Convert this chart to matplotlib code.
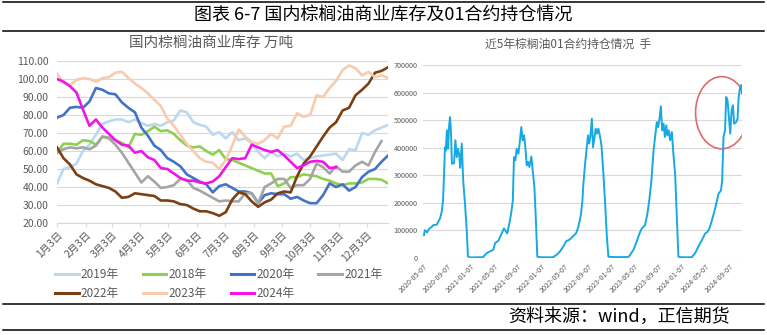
import matplotlib
matplotlib.use('Agg')
import matplotlib.pyplot as plt
import matplotlib.dates as mdates
from matplotlib.lines import Line2D
from matplotlib.patches import Ellipse, Rectangle
import numpy as np
import pandas as pd

plt.rcParams['font.family'] = ['Liberation Sans Narrow', 'Noto Sans CJK SC', 'DejaVu Sans']

# 商业库存，每周一个点，单位万吨
week_days = np.arange(52) * 7
stock_2019 = [42, 50, 51, 53, 60, 63.5, 69, 75, 76.5, 77.5, 77.5, 76, 77.5, 75.5, 74, 75, 74, 76, 77, 82.5,
              81.5, 76, 74.5, 73.5, 69, 70.5, 67, 70.5, 66, 67, 64.5, 59.5, 56, 59.5, 57, 58.5, 57, 58.5, 55, 56,
              57, 57.5, 58, 58.5, 55, 61, 60.5, 70, 69, 71.5, 73, 74.5]
stock_2018 = [59, 64, 64, 63.5, 66, 65.5, 63.5, 68, 67.5, 66, 64.5, 62, 69.5, 69, 71, 73.5, 71, 71.5, 69.5, 66,
              63, 62, 62.5, 60, 58, 60.5, 55.5, 55, 53.5, 52, 50.5, 49, 47.5, 47.5, 40.5, 42, 45.5, 45.5, 47, 46.5,
              46, 44.5, 43.5, 42, 41, 42, 42, 42.5, 44.5, 44.5, 44, 42]
stock_2020 = [78.5, 80, 84, 84.5, 84, 87.5, 95, 94, 92, 91.5, 87, 84, 81.5, 73, 68.5, 63, 60.5, 56, 54, 51.5,
              47, 45, 43, 41.5, 37, 40.5, 41.5, 39.5, 37.5, 37.5, 36.5, 31, 35.5, 36.5, 36, 36, 33.5, 34.5, 32.5, 31,
              31, 35.5, 42, 40, 41.5, 38, 40, 45.5, 48.5, 50, 54, 57.5]
stock_2021 = [59, 61, 62, 61.5, 62, 61, 63, 68, 67, 63.5, 59, 53.5, 48, 42.5, 46, 43, 39.5, 40, 41, 44.5,
              44, 39.5, 38, 36, 34, 32, 32.5, 32, 32, 36.5, 36.5, 31, 40, 42, 44.5, 44.5, 39.5, 41, 41, 44.5,
              53, 51, 47.5, 51.5, 48.5, 48.5, 52, 54, 52, 59.5, 65.5]
stock_2022 = [62, 56, 52.5, 47, 45, 43.5, 41.5, 40.5, 39.5, 37.5, 34, 34.5, 36.5, 36, 35.5, 35, 32.5, 32.5, 32, 30.5,
              30, 28, 26.5, 26.5, 25.5, 24, 26, 33, 37, 36, 32, 29, 31.5, 33, 36.5, 37.5, 37, 46, 53, 57,
              62.5, 68, 73, 76, 82.5, 84, 91, 94, 97.5, 103.5, 104.5, 106.5]
stock_2023 = [103, 98, 96.5, 99.5, 100.5, 100, 98.5, 100.5, 101, 103.5, 104, 100.5, 97.5, 95, 92, 88.5, 85, 78, 74, 69,
              64, 60, 56, 54, 53.5, 50, 55, 63, 72, 68, 65, 64, 66, 69.5, 67, 73.5, 74, 81, 79, 80,
              91, 90, 95, 99, 105, 107.5, 106, 102, 104, 101, 102, 100.5]
stock_2024 = [100, 98.5, 96, 92.5, 83, 74, 77.5, 73, 69.5, 66, 63.5, 63, 59, 60, 56.5, 55, 50.5, 50, 47.5, 45,
              43.5, 43.5, 42.5, 42, 43, 46, 51, 56, 55.5, 56, 63.5, 62, 60.5, 59.5, 60.5, 57.5, 54, 50.5, 52, 54,
              54.5, 54, 50.5, 51]

month_days = [0, 31, 59, 90, 120, 151, 181, 212, 243, 273, 304, 334]
month_labels = ['%d月3日' % m for m in range(1, 13)]

# 01合约持仓，单位手
p2101_dates = ['2020-05-07', '2020-05-12', '2020-05-23', '2020-06-02', '2020-06-16', '2020-06-24', '2020-07-12',
               '2020-07-20', '2020-07-29', '2020-08-07', '2020-08-14', '2020-08-19', '2020-08-24', '2020-08-28',
               '2020-09-03', '2020-09-09', '2020-09-14', '2020-09-19', '2020-09-24', '2020-09-29', '2020-10-10',
               '2020-10-17', '2020-10-24', '2020-10-31', '2020-11-06', '2020-11-11', '2020-11-19', '2020-11-27',
               '2020-12-06', '2020-12-15', '2020-12-21']
p2101_oi = [83000, 101000, 93000, 105000, 113000, 119000, 121000, 131000, 143000, 167000, 210000, 300000, 402000,
            390000, 463000, 396000, 475000, 511000, 463000, 342000, 344000, 427000, 366000, 396000, 372000, 327000,
            415000, 275000, 196000, 99000, 6000]
p2201_dates = ['2021-01-01', '2021-02-05', '2021-03-09', '2021-03-29', '2021-04-15', '2021-05-02', '2021-05-11',
               '2021-05-28', '2021-06-14', '2021-06-26', '2021-07-07', '2021-07-13', '2021-07-24', '2021-08-02',
               '2021-08-11', '2021-08-17', '2021-08-24', '2021-08-31', '2021-09-09', '2021-09-17', '2021-09-24',
               '2021-10-01', '2021-10-08', '2021-10-15', '2021-10-22', '2021-10-29', '2021-11-05', '2021-11-15',
               '2021-11-22', '2021-12-01', '2021-12-08', '2021-12-16']
p2201_oi = [2000, 2500, 3000, 18000, 24000, 30000, 54000, 63000, 89000, 107000, 95000, 89000, 125000, 160000,
            208000, 366000, 354000, 396000, 378000, 427000, 475000, 427000, 445000, 402000, 336000, 348000, 330000,
            368000, 318000, 257000, 148000, 5000]
p2301_dates = ['2021-12-30', '2022-02-10', '2022-03-08', '2022-03-27', '2022-04-13', '2022-04-30', '2022-05-14',
               '2022-06-04', '2022-06-21', '2022-07-05', '2022-07-17', '2022-07-30', '2022-08-07', '2022-08-12',
               '2022-08-21', '2022-08-30', '2022-09-05', '2022-09-11', '2022-09-17', '2022-09-25', '2022-10-01',
               '2022-10-08', '2022-10-15', '2022-10-22', '2022-10-29', '2022-11-07', '2022-11-14', '2022-11-24',
               '2022-12-03', '2022-12-12', '2022-12-20']
p2301_oi = [3000, 2500, 3000, 12000, 24000, 42000, 60000, 68000, 80000, 89000, 113000, 155000, 208000, 269000,
            342000, 402000, 445000, 415000, 439000, 505000, 402000, 433000, 469000, 451000, 469000, 439000, 408000,
            305000, 196000, 75000, 5000]
p2401_dates = ['2022-12-29', '2023-02-15', '2023-04-03', '2023-04-12', '2023-04-29', '2023-05-16', '2023-05-30',
               '2023-06-11', '2023-06-28', '2023-07-10', '2023-07-21', '2023-07-31', '2023-08-11', '2023-08-19',
               '2023-08-28', '2023-09-04', '2023-09-11', '2023-09-18', '2023-09-25', '2023-10-02', '2023-10-09',
               '2023-10-16', '2023-10-22', '2023-10-29', '2023-11-05', '2023-11-14', '2023-11-22', '2023-12-01',
               '2023-12-10', '2023-12-18']
p2401_oi = [4000, 3000, 4000, 12000, 30000, 60000, 89000, 107000, 119000, 160000, 215000, 281000, 390000, 439000,
            493000, 475000, 505000, 550000, 463000, 487000, 439000, 481000, 445000, 463000, 427000, 457000, 378000,
            305000, 148000, 5000]
p2501_dates = ['2023-12-27', '2024-01-25', '2024-02-26', '2024-03-14', '2024-03-31', '2024-04-18', '2024-05-05',
               '2024-05-17', '2024-05-27', '2024-06-09', '2024-06-21', '2024-07-01', '2024-07-13', '2024-07-26',
               '2024-08-01', '2024-08-08', '2024-08-16', '2024-08-22', '2024-08-29', '2024-09-05', '2024-09-12',
               '2024-09-19', '2024-09-26', '2024-10-02', '2024-10-13', '2024-10-20', '2024-10-25', '2024-11-02',
               '2024-11-08', '2024-11-12']
p2501_oi = [3000, 2500, 3000, 18000, 42000, 65000, 89000, 95000, 107000, 137000, 167000, 196000, 233000, 245000,
            281000, 439000, 463000, 584000, 572000, 511000, 451000, 536000, 554000, 487000, 493000, 505000, 578000,
            620000, 627000, 596000]

W, H = 767, 335
TICK_GRAY = '#595959'
GRID = '#D9D9D9'
CJK = ['Noto Sans CJK SC', 'DejaVu Sans']


def px_box(x0, y0, x1, y1):
    return [x0 / W, 1 - y1 / H, (x1 - x0) / W, (y1 - y0) / H]


fig = plt.figure(figsize=(W / 100, H / 100), dpi=100)

# 左图：商业库存季节性
ax1 = fig.add_axes(px_box(57, 61, 388, 223))
series = [
    ('2019年', stock_2019, '#BDD7EE'),
    ('2018年', stock_2018, '#8FD050'),
    ('2020年', stock_2020, '#4472C4'),
    ('2021年', stock_2021, '#A5A5A5'),
    ('2022年', stock_2022, '#7B3F14'),
    ('2023年', stock_2023, '#F8CBAD'),
    ('2024年', stock_2024, '#F014E8'),
]
handles = {}
for name, vals, color in series:
    line, = ax1.plot(week_days[:len(vals)], vals, color=color, lw=1.9, label=name,
                     solid_joinstyle='round')
    handles[name] = line

ax1.set_xlim(0, 357)
ax1.set_ylim(20, 110)
ax1.set_yticks(np.arange(20, 111, 10))
ax1.set_yticklabels(['%.2f' % v for v in np.arange(20, 111, 10)])
ax1.set_xticks(month_days)
ax1.set_xticklabels(month_labels, rotation=45, ha='right', rotation_mode='anchor')
ax1.yaxis.grid(True, color=GRID, lw=0.8)
ax1.set_axisbelow(True)
for side in ('top', 'right', 'left'):
    ax1.spines[side].set_visible(False)
ax1.spines['bottom'].set_color(GRID)
ax1.tick_params(axis='y', length=0, pad=6, labelsize=7.5, labelcolor=TICK_GRAY)
ax1.tick_params(axis='x', length=3, color=GRID, pad=2, labelsize=7.5, labelcolor=TICK_GRAY)

order = ['2019年', '2022年', '2018年', '2023年', '2020年', '2024年', '2021年']
leg = fig.legend([handles[k] for k in order], order, ncol=4, loc='upper left',
                 bbox_to_anchor=(55 / W, 1 - 268 / H), frameon=False, fontsize=8.5,
                 handlelength=2.0, handletextpad=0.2, columnspacing=2.0, labelspacing=0.55,
                 borderpad=0, borderaxespad=0)
for t in leg.get_texts():
    t.set_color(TICK_GRAY)
for lh in leg.get_lines():
    lh.set_linewidth(2.2)

# 右图：01合约持仓
ax2 = fig.add_axes(px_box(423, 65, 742, 258))
oi_dates = pd.to_datetime(p2101_dates + p2201_dates + p2301_dates + p2401_dates + p2501_dates)
oi_vals = p2101_oi + p2201_oi + p2301_oi + p2401_oi + p2501_oi
ax2.plot(oi_dates, oi_vals, color='#17A9E1', lw=1.4)
ax2.set_xlim(pd.Timestamp('2020-05-02'), pd.Timestamp('2024-11-12'))
ax2.set_ylim(0, 700000)
ax2.set_yticks(np.arange(0, 700001, 100000))
ax2.set_yticklabels(['%d' % v for v in np.arange(0, 700001, 100000)])
ax2.set_xticks(pd.date_range('2020-05-01', '2024-09-01', freq='4MS') + pd.Timedelta(days=6))
ax2.xaxis.set_major_formatter(mdates.DateFormatter('%Y-%m-%d'))
plt.setp(ax2.get_xticklabels(), rotation=45, ha='right', rotation_mode='anchor')
ax2.yaxis.grid(True, color=GRID, lw=0.8)
ax2.set_axisbelow(True)
for side in ('top', 'right', 'left', 'bottom'):
    ax2.spines[side].set_visible(False)
ax2.tick_params(axis='y', length=0, pad=4, labelsize=5.2, labelcolor=TICK_GRAY)
ax2.tick_params(axis='x', length=0, pad=3, labelsize=5.2, labelcolor=TICK_GRAY)

ring = Ellipse((mdates.date2num(pd.Timestamp('2024-07-30')), 527000), width=272, height=262000,
               fill=False, edgecolor='#E06A6E', lw=1.2)
ring.set_clip_path(Rectangle((0, 0), 745 / W, 1, transform=fig.transFigure))
ax2.add_patch(ring)

# 标题、来源与分隔线
fig.text(383 / W, 1 - 16 / H, '图表 6-7 国内棕榈油商业库存及01合约持仓情况', ha='center', va='center',
         fontsize=13, family=CJK)
fig.text(211 / W, 1 - 43 / H, '国内棕榈油商业库存 万吨', ha='center', va='center',
         fontsize=10.5, color=TICK_GRAY, family=CJK)
fig.text(568 / W, 1 - 44 / H, '近5年棕榈油01合约持仓情况  手', ha='center', va='center',
         fontsize=8.5, color=TICK_GRAY, family=CJK)
fig.text(730 / W, 1 - 317 / H, '资料来源：wind，正信期货', ha='right', va='center',
         fontsize=13, family=CJK)
for y in (1.5, 31, 304, 330):
    fig.add_artist(Line2D([3 / W, 764 / W], [1 - y / H, 1 - y / H], color='black', lw=1.1))

fig.savefig('out.png', dpi=100)
